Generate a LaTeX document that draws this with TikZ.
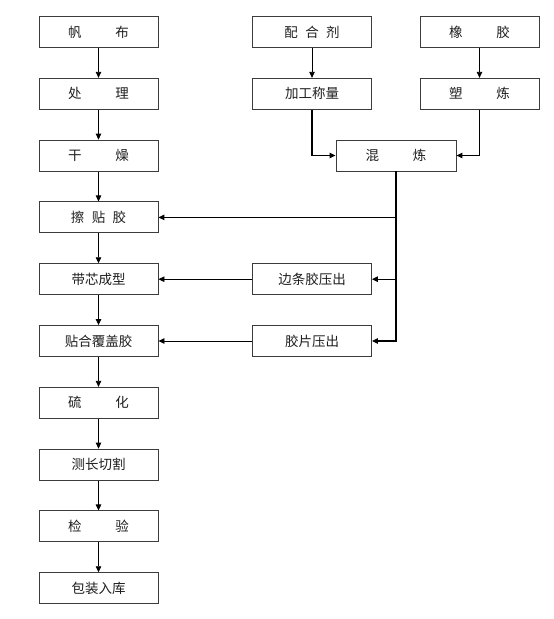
\documentclass[tikz,border=0pt]{standalone}
\usepackage{fontspec}
\setmainfont{Noto Sans CJK SC}
\usepackage{tikz}
\usetikzlibrary{positioning,arrows.meta}
\definecolor{boxline}{RGB}{60,60,60}
\definecolor{txtgray}{RGB}{30,30,30}

\begin{document}
\begin{tikzpicture}[
  x=1pt, y=-1pt,
  font=\fontsize{13.5}{15}\selectfont,
  stage/.style={rectangle, draw=boxline, line width=0.9pt, text=txtgray,
                minimum width=119pt, minimum height=31pt, inner sep=0pt},
  wide/.style={stage, minimum width=120pt},
  arr/.style={-{Triangle[length=6pt,width=5.5pt]}, line width=1.2pt, black},
  feed/.style={-{Triangle[length=6pt,width=5.5pt]}, line width=0.8pt, black}
]
\useasboundingbox (0,0) rectangle (554,619);

%% main line (left column)
\node[stage] (fanbu) at (98.5,32) {帆\hspace{2.5em}布};
\node[stage, below=29.9pt of fanbu] (chuli) {处\hspace{2.5em}理};
\node[stage, below=29.9pt of chuli] (ganzao) {干\hspace{2.5em}燥};
\node[stage, below=29.9pt of ganzao] (catie) {擦\hspace{0.55em}贴\hspace{0.55em}胶};
\node[stage, below=29.9pt of catie] (daixin) {带芯成型};
\node[stage, below=29.9pt of daixin] (tiehe) {贴合覆盖胶};
\node[stage, below=29.9pt of tiehe] (liuhua) {硫\hspace{2.5em}化};
\node[stage, below=29.9pt of liuhua] (cechang) {测长切割};
\node[stage, below=29.9pt of cechang] (jianyan) {检\hspace{2.5em}验};
\node[stage, below=29.9pt of jianyan] (baozhuang) {包装入库};

%% rubber compound branch
\node[stage] (peihe) at (312,32) {配\hspace{0.55em}合\hspace{0.55em}剂};
\node[stage] (xiangjiao) at (479.5,32) {橡\hspace{2.5em}胶};
\node[stage, below=29.9pt of peihe] (jiagong) {加工称量};
\node[stage, below=29.9pt of xiangjiao] (sulian) {塑\hspace{2.5em}炼};
\node[wide] (hunlian) at (396,155.5) {混\hspace{2.5em}炼};
\node[stage, right=93.6pt of daixin] (biantiao) {边条胶压出};
\node[stage, right=93.6pt of tiehe] (jiaopian) {胶片压出};

\coordinate (j1) at (hunlian.south |- catie.east);
\coordinate (j2) at (hunlian.south |- biantiao.east);

\foreach \a/\b in {fanbu/chuli, chuli/ganzao, ganzao/catie, catie/daixin,
                   daixin/tiehe, tiehe/liuhua, liuhua/cechang,
                   cechang/jianyan, jianyan/baozhuang,
                   peihe/jiagong, xiangjiao/sulian}
  \draw[feed] (\a) -- (\b);

\draw[arr] (jiagong.south) |- (hunlian.west);
\draw[arr] (sulian.south) |- (hunlian.east);
\draw[arr] (hunlian.south) |- (jiaopian.east);
\draw[arr] (j1) -- (catie.east);
\draw[arr] (j2) -- (biantiao.east);
\draw[feed] (biantiao.west) -- (daixin.east);
\draw[feed] (jiaopian.west) -- (tiehe.east);

\end{tikzpicture}
\end{document}
